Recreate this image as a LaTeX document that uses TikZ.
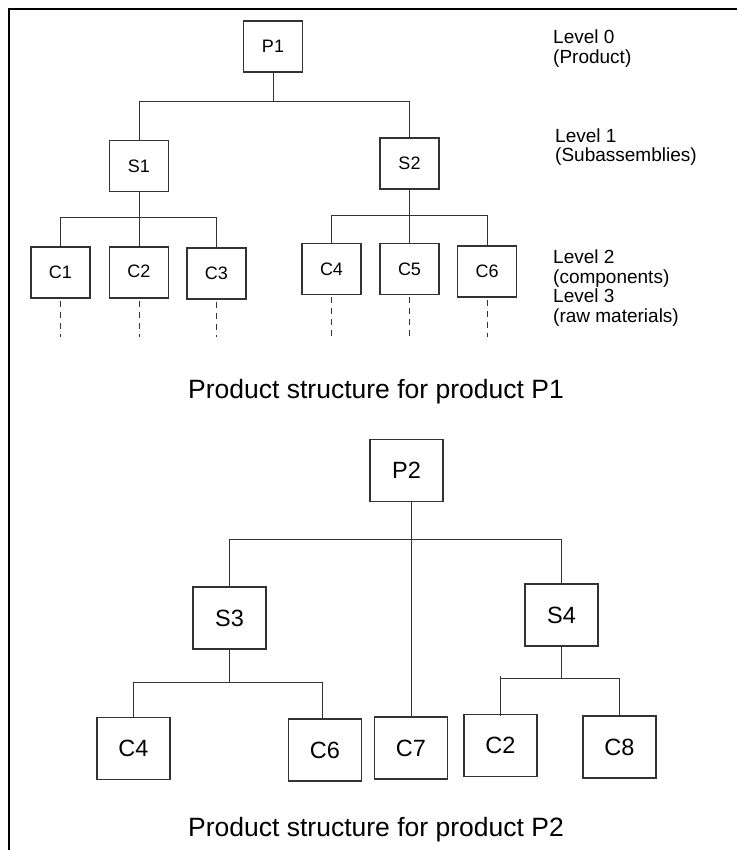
\documentclass[tikz,border=0pt]{standalone}
\usepackage{fontspec}
\setmainfont{Liberation Sans}
\begin{document}
\begin{tikzpicture}[x=1pt,y=-1pt,
  box/.style={draw=black!80, line width=1.1pt, inner sep=0pt, fill=white},
  boxA/.style={box, minimum width=59pt, minimum height=51pt, font=\fontsize{18}{20}\selectfont},
  boxB/.style={box, minimum width=73pt, minimum height=62pt, font=\fontsize{23.5}{26}\selectfont},
  conn/.style={draw=black!80, line width=1pt},
  dashline/.style={conn, dash pattern=on 6pt off 5pt},
  lvl/.style={anchor=west, align=left, inner sep=0pt, font=\fontsize{19}{19.4}\selectfont},
  ttl/.style={inner sep=0pt, font=\fontsize{26.5}{30}\selectfont}]
\useasboundingbox (0,0) rectangle (737,850);
% frame
\draw[line width=2pt, black] (8.5,850) -- (8.5,9) -- (737,9);

% ---------- Tree 1 ----------
\node[boxA] (P1) at (273,46.5) {P1};
\node[boxA] (S1) at (139,166) {S1};
\node[boxA] (S2) at (409.5,163.5) {S2};
\node[boxA] (C1) at (60.5,272.5) {C1};
\node[boxA] (C2) at (139,272.5) {\raisebox{3pt}{C2}};
\node[boxA] (C3) at (216.5,273.5) {C3};
\node[boxA] (C4a) at (331.5,269) {C4};
\node[boxA] (C5) at (409.5,269) {C5};
\node[boxA] (C6a) at (487,271.5) {C6};

\coordinate (b1) at (273,102);
\coordinate (b2) at (139,218);
\coordinate (b3) at (409.5,216);
\coordinate (d) at (0,337);

\draw[conn] (P1.south) -- (P1.south |- b1);
\draw[conn] (S1.north) -- (S1.north |- b1) -- (S2.north |- b1) -- (S2.north);
\draw[conn] (S1.south) -- (C2.north);
\draw[conn] (C1.north) -- (C1.north |- b2) -- (C3.north |- b2) -- (C3.north);
\draw[conn] (S2.south) -- (C5.north);
\draw[conn] (C4a.north) -- (C4a.north |- b3) -- (C6a.north |- b3) -- (C6a.north);

\foreach \n in {C1,C2,C3,C4a,C5,C6a}
  \draw[dashline] ([yshift=-2pt]\n.south) -- (\n.south |- d);

\node[lvl] (L0) at (553,48.5) {Level 0\\(Product)};
\node[lvl] (L1) at (555,147) {Level 1\\(Subassemblies)};
\node[lvl] (L2) at (553,288) {Level 2\\(components)\\Level 3\\(raw materials)};

\node[ttl] (T1) at (376,392) {Product structure for product P1};

% ---------- Tree 2 ----------
\node[boxB] (P2) at (406.5,470.5) {P2};
\node[boxB] (S3) at (229.5,618) {S3};
\node[boxB] (S4) at (561.5,615) {S4};
\node[boxB] (D4) at (133.5,748.5) {C4};
\node[boxB] (D6) at (325,750) {C6};
\node[boxB] (D7) at (411,748) {C7};
\node[boxB] (D2) at (500.5,745.5) {C2};
\node[boxB] (D8) at (619.5,747) {C8};

\coordinate (e1) at (410,539);
\coordinate (e2) at (229.5,682);
\coordinate (e3) at (561.5,678);

\draw[conn] (P2.south -| D7.north) -- (D7.north);
\draw[conn] (S3.north) -- (S3.north |- e1) -- (S4.north |- e1) -- (S4.north);
\draw[conn] (S3.south) -- (e2);
\draw[conn] (D4.north) -- (D4.north |- e2) -- (D6.north |- e2 -| 322,0) -- (322,0 |- D6.north);
\draw[conn] (S4.south) -- (e3);
\draw[conn] ([yshift=-2pt]D2.north) -- ([yshift=2pt]D2.north |- e3);
\draw[conn] (D2.north |- e3) -- (D8.north |- e3) -- (D8.north);

\node[ttl] (T2) at (376,830) {Product structure for product P2};
\end{tikzpicture}
\end{document}
